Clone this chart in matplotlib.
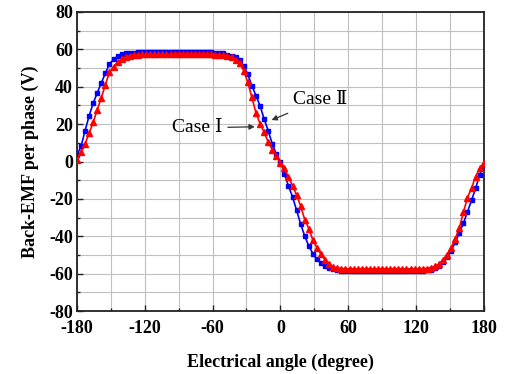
import numpy as np
import matplotlib.pyplot as plt
from matplotlib.ticker import MultipleLocator

# electrical angle, one marker every 3.6 degrees
angle = np.linspace(-180, 180, 101)

# Case II (blue squares)
emf_case2 = [
    3.5, 8.1, 16.6, 24.5, 31.3, 36.8, 42.1, 47.4, 52.2, 54.6,
    56.3, 57.3, 57.8, 58.1, 58.3, 58.4, 58.5, 58.5, 58.6, 58.6,
    58.5, 58.5, 58.6, 58.6, 58.5, 58.5, 58.6, 58.6, 58.5, 58.5,
    58.5, 58.5, 58.4, 58.4, 58.3, 58.1, 57.8, 57.2, 56.7, 55.9,
    54.2, 51.2, 46.7, 40.5, 35.3, 29.9, 22.8, 16.6, 9.6, 4.0,
    0.0, -6.5, -13.1, -18.9, -26.1, -33.5, -39.9, -45.2, -49.2, -52.3,
    -54.1, -55.8, -56.8, -57.5, -58.0, -58.3, -58.5, -58.5, -58.6, -58.6,
    -58.5, -58.5, -58.6, -58.6, -58.5, -58.5, -58.6, -58.6, -58.5, -58.5,
    -58.6, -58.5, -58.5, -58.5, -58.5, -58.4, -58.2, -57.8, -57.0, -55.8,
    -53.6, -51.0, -47.6, -43.2, -38.1, -33.0, -26.9, -20.7, -14.3, -7.0,
    -2.0,
]

# Case I (red triangles)
emf_case1 = [
    1.0, 4.9, 9.4, 15.3, 21.0, 27.8, 34.2, 41.2, 47.8, 50.8,
    53.2, 54.9, 56.0, 56.6, 57.0, 57.2, 57.3, 57.3, 57.4, 57.4,
    57.3, 57.3, 57.4, 57.4, 57.3, 57.3, 57.4, 57.4, 57.3, 57.3,
    57.4, 57.3, 57.3, 57.3, 57.2, 57.1, 56.9, 56.5, 55.7, 54.4,
    52.6, 48.6, 42.3, 34.3, 26.1, 20.3, 15.7, 10.5, 6.4, 3.2,
    -0.5, -3.7, -8.4, -13.0, -18.0, -23.9, -31.1, -35.9, -42.1, -46.0,
    -49.6, -52.6, -54.7, -56.3, -56.9, -57.2, -57.3, -57.3, -57.4, -57.4,
    -57.3, -57.3, -57.4, -57.4, -57.3, -57.3, -57.4, -57.4, -57.3, -57.3,
    -57.4, -57.3, -57.3, -57.3, -57.3, -57.3, -57.2, -56.8, -56.0, -54.8,
    -52.7, -49.7, -46.0, -41.2, -35.5, -27.0, -19.3, -14.1, -8.0, -3.7,
    -0.8,
]

plt.rcParams['font.family'] = ['Liberation Serif', 'DejaVu Serif']
plt.rcParams['axes.unicode_minus'] = False

fig, ax = plt.subplots(figsize=(5.13, 3.74), dpi=100)
fig.subplots_adjust(left=0.150, right=0.943, bottom=0.168, top=0.968)

ax.plot(angle, emf_case2, color='#0000ff', lw=1.2, marker='s', ms=3.2, zorder=3)
ax.plot(angle, emf_case1, color='#ff0000', lw=1.2, marker='^', ms=4.2, zorder=4)

ax.set_xlim(-180, 180)
ax.set_ylim(-80, 80)
ax.xaxis.set_major_locator(MultipleLocator(60))
ax.xaxis.set_minor_locator(MultipleLocator(30))
ax.yaxis.set_major_locator(MultipleLocator(20))
ax.yaxis.set_minor_locator(MultipleLocator(10))
ax.grid(which='both', color='#c0c0c0', lw=0.8, zorder=0)
ax.set_axisbelow(True)

ax.tick_params(which='both', direction='in', top=False, right=False,
               width=1.0, color='#222222')
ax.tick_params(which='major', length=4, labelsize=13, pad=6)
ax.tick_params(which='minor', length=2.5)
ax.tick_params(axis='y', pad=3)
for lab in ax.get_xticklabels() + ax.get_yticklabels():
    lab.set_fontweight('bold')
for sp in ax.spines.values():
    sp.set_linewidth(1.3)
    sp.set_color('#222222')

ax.set_xlabel('Electrical angle (degree)', fontsize=13, fontweight='bold')
ax.set_ylabel('Back-EMF per phase (V)', fontsize=13, fontweight='bold')
ax.xaxis.set_label_coords(0.5, -0.142)
ax.yaxis.set_label_coords(-0.093, 0.5)

# case labels with arrows
ax.annotate('Case \u2160', xy=(-22.6, 18.6), xytext=(-96, 18), fontsize=14,
            ha='left', va='center',
            arrowprops=dict(arrowstyle='-|>', color='#333333', lw=0.9,
                            mutation_scale=8, shrinkA=2, shrinkB=0))
ax.annotate('Case \u2161', xy=(-7.8, 22.2), xytext=(11, 33), fontsize=14,
            ha='left', va='center',
            arrowprops=dict(arrowstyle='-|>', color='#333333', lw=0.9,
                            mutation_scale=8, shrinkA=4, shrinkB=0))

fig.savefig('out.png', dpi=100)
